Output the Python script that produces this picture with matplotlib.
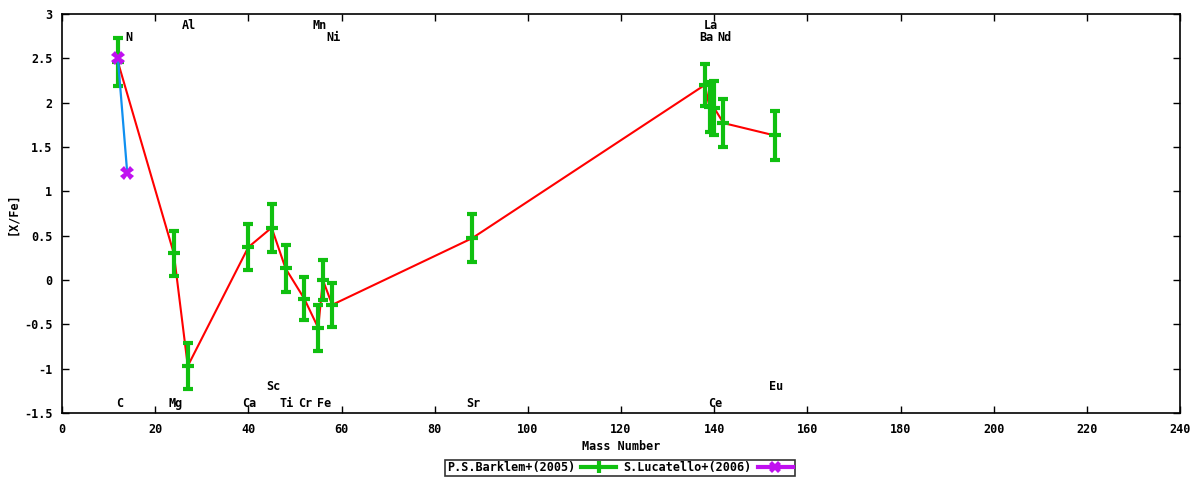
import matplotlib
matplotlib.use("Agg")
import matplotlib.pyplot as plt
from matplotlib.lines import Line2D

# Barklem+ (2005)
bk_elem = ["C", "Mg", "Al", "Ca", "Sc", "Ti", "Cr", "Mn", "Fe", "Ni",
           "Sr", "Ba", "La", "Ce", "Nd", "Eu"]
bk_mass = [12, 24, 27, 40, 45, 48, 52, 55, 56, 58, 88, 138, 139, 140, 142, 153]
bk_xfe = [2.46, 0.30, -0.97, 0.37, 0.59, 0.13, -0.21, -0.54, 0.00, -0.28,
          0.47, 2.20, 1.95, 1.94, 1.77, 1.63]
bk_err = [0.27, 0.25, 0.26, 0.26, 0.27, 0.26, 0.24, 0.26, 0.23, 0.25,
          0.27, 0.24, 0.28, 0.30, 0.27, 0.28]

# Lucatello+ (2006)
lu_elem = ["C", "N"]
lu_mass = [12, 14]
lu_xfe = [2.50, 1.21]
lu_err = [0.0, 0.0]

# element labels
label_elem = ["C", "N", "Mg", "Al", "Ca", "Sc", "Ti", "Cr", "Mn", "Fe", "Ni",
              "Sr", "Ba", "La", "Ce", "Nd", "Eu"]
label_mass = [12, 14, 24, 27, 40, 45, 48, 52, 55, 56, 58, 88, 138, 139, 140, 142, 153]
label_tier = ["b1", "t2", "b1", "t1", "b1", "b2", "b1", "b1", "t1", "b1", "t2",
              "b1", "t2", "t1", "b1", "t2", "b2"]
tier_y = {"t1": 0.97, "t2": 0.94, "b1": 0.025, "b2": 0.066}

green = "#10c010"
purple = "#c010f0"
blue = "#1090f0"
red = "#ff0000"

font = {"family": "DejaVu Sans Mono", "weight": "bold", "size": 8.5}

fig = plt.figure(figsize=(12, 4.8), dpi=100)
ax = fig.add_axes([62 / 1200, 1 - 413 / 480, (1180 - 62) / 1200, (413 - 14) / 480])

ax.plot(bk_mass, bk_xfe, color=red, lw=1.5, zorder=2)
ax.errorbar(bk_mass, bk_xfe, yerr=bk_err, fmt="_", color=green, ms=9, mew=3,
            elinewidth=3, capsize=3.4, capthick=3, zorder=3)
ax.plot(lu_mass, lu_xfe, color=blue, lw=1.6, zorder=4)
ax.errorbar(lu_mass, lu_xfe, yerr=lu_err, fmt="X", color=purple, ms=10, mew=0,
            elinewidth=3, capsize=3.4, capthick=3, zorder=5)

for name, m, t in zip(label_elem, label_mass, label_tier):
    ax.annotate(name, xy=(m, tier_y[t]), xycoords=("data", "axes fraction"),
                xytext=(1, 0), textcoords="offset points",
                ha="center", va="center", **font)

ax.set_xlim(0, 240)
ax.set_ylim(-1.5, 3)
ax.set_xticks(range(0, 241, 20))
ax.set_yticks([-1.5, -1, -0.5, 0, 0.5, 1, 1.5, 2, 2.5, 3])
ax.set_yticklabels(["-1.5", "-1", "-0.5", "0", "0.5", "1", "1.5", "2", "2.5", "3"])
ax.tick_params(direction="in", top=True, right=True, length=5, width=1, pad=7)
for lab in ax.get_xticklabels() + ax.get_yticklabels():
    lab.set_fontfamily(font["family"])
    lab.set_fontweight("bold")
    lab.set_fontsize(font["size"])
for s in ax.spines.values():
    s.set_linewidth(1.2)

ax.set_xlabel("Mass Number", labelpad=3, **font)
ax.set_ylabel("[X/Fe]", labelpad=3, **font)

h1 = Line2D([], [], color=green, lw=3, marker="|", ms=9, mew=3)
h2 = Line2D([], [], color=purple, lw=3, marker="X", ms=9, mew=0)
leg = fig.legend([h1, h2], ["P.S.Barklem+(2005)", "S.Lucatello+(2006)"],
                 loc="center", bbox_to_anchor=(620 / 1200, 1 - 468 / 480),
                 ncol=2, markerfirst=False, frameon=True, fancybox=False,
                 borderpad=0.15, handlelength=3.0, columnspacing=0.6,
                 handletextpad=0.5, borderaxespad=0,
                 prop={"family": font["family"], "weight": "bold", "size": font["size"]})
leg.get_frame().set_edgecolor("black")
leg.get_frame().set_linewidth(1.2)

fig.savefig("out.png", dpi=100)
